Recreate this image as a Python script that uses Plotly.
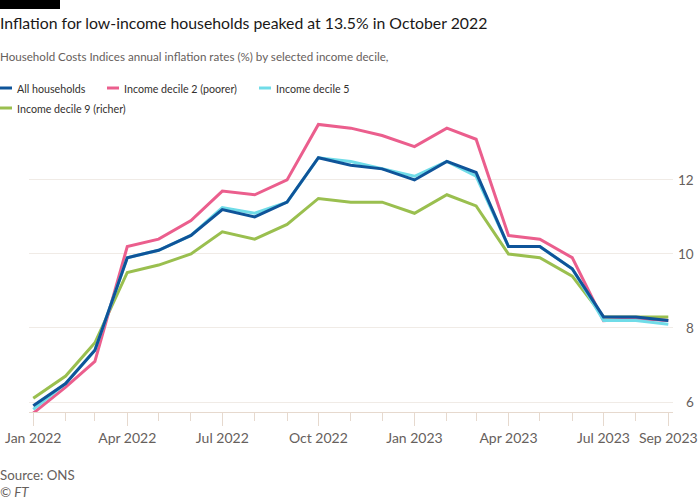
import plotly.graph_objects as go

# ---- data ----
months = ["2022-01-01", "2022-02-01", "2022-03-01", "2022-04-01", "2022-05-01", "2022-06-01",
          "2022-07-01", "2022-08-01", "2022-09-01", "2022-10-01", "2022-11-01", "2022-12-01",
          "2023-01-01", "2023-02-01", "2023-03-01", "2023-04-01", "2023-05-01", "2023-06-01",
          "2023-07-01", "2023-08-01", "2023-09-01"]

all_households = [5.9, 6.5, 7.4, 9.9, 10.1, 10.5, 11.2, 11.0, 11.4, 12.6, 12.4, 12.3,
                  12.0, 12.5, 12.2, 10.2, 10.2, 9.6, 8.3, 8.3, 8.2]
decile_2 = [5.7, 6.4, 7.1, 10.2, 10.4, 10.9, 11.7, 11.6, 12.0, 13.5, 13.4, 13.2,
            12.9, 13.4, 13.1, 10.5, 10.4, 9.9, 8.2, 8.25, 8.2]
decile_5 = [5.8, 6.5, 7.4, 9.9, 10.1, 10.5, 11.25, 11.1, 11.4, 12.6, 12.5, 12.3,
            12.1, 12.5, 12.1, 10.2, 10.2, 9.6, 8.2, 8.2, 8.1]
decile_9 = [6.1, 6.7, 7.6, 9.5, 9.7, 10.0, 10.6, 10.4, 10.8, 11.5, 11.4, 11.4,
            11.1, 11.6, 11.3, 10.0, 9.9, 9.4, 8.3, 8.3, 8.3]

series_names = ["All households", "Income decile 2 (poorer)", "Income decile 5", "Income decile 9 (richer)"]
series_values = [all_households, decile_2, decile_5, decile_9]
series_colors = ["#0f5499", "#eb5e8d", "#70dce8", "#9abf4f"]

x_tick_vals = ["2022-01-01", "2022-04-01", "2022-07-01", "2022-10-01", "2023-01-01",
               "2023-04-01", "2023-07-01", "2023-09-01"]
x_tick_text = ["Jan 2022", "Apr 2022", "Jul 2022", "Oct 2022", "Jan 2023",
               "Apr 2023", "Jul 2023", "Sep 2023"]
y_tick_vals = [6, 8, 10, 12]

title = "Inflation for low-income households peaked at 13.5% in October 2022"
subtitle = "Household Costs Indices annual inflation rates (%) by selected income decile,"
source = "Source: ONS"
credit = "© FT"

# ---- layout geometry (pixels) ----
W, H = 700, 500
PL, PR, PT, PB = 29, 673, 120, 412
FONT = "Lato"


def px(xp):
    return (xp - PL) / (PR - PL)


def py(yp):
    return (PB - yp) / (PB - PT)


fig = go.Figure()

draw_order = [3, 1, 2, 0]
for i in draw_order:
    fig.add_trace(go.Scatter(
        x=months, y=series_values[i], name=series_names[i], mode="lines",
        line=dict(color=series_colors[i], width=3), showlegend=False,
    ))

annotations = []
shapes = []

# black bar at the top-left (extends a little so it stays visible)
shapes.append(dict(type="rect", xref="paper", yref="paper", x0=px(0), x1=px(60),
                   y0=py(9), y1=py(0), fillcolor="#000000", line=dict(width=0), layer="above"))

annotations.append(dict(text=title, xref="paper", yref="paper", x=px(-2), y=py(22), xanchor="left",
                        yanchor="middle", showarrow=False, font=dict(family=FONT, size=15.8, color="#1a1817")))
annotations.append(dict(text=subtitle, xref="paper", yref="paper", x=px(-2), y=py(57), xanchor="left",
                        yanchor="middle", showarrow=False, font=dict(family=FONT, size=11.6, color="#66605c")))

# legend
legend_pos = [(0, 88), (107, 88), (259, 88), (0, 108)]
for (lx, ly), name, color in zip(legend_pos, series_names, series_colors):
    shapes.append(dict(type="line", xref="paper", yref="paper", x0=px(lx), x1=px(lx + 12),
                       y0=py(ly), y1=py(ly), line=dict(color=color, width=3)))
    annotations.append(dict(text=name, xref="paper", yref="paper", x=px(lx + 15), y=py(ly),
                            xanchor="left", yanchor="middle", showarrow=False,
                            font=dict(family=FONT, size=10.7, color="#33302e")))

# y tick labels (right aligned)
for v in y_tick_vals:
    annotations.append(dict(text=str(v), xref="paper", yref="y", x=px(696), y=v, xanchor="right",
                            yanchor="middle", showarrow=False,
                            font=dict(family=FONT, size=13.5, color="#66605c")))

annotations.append(dict(text=source, xref="paper", yref="paper", x=px(-2), y=py(475), xanchor="left",
                        yanchor="middle", showarrow=False, font=dict(family=FONT, size=13.3, color="#66605c")))
annotations.append(dict(text="<i>" + credit + "</i>", xref="paper", yref="paper", x=px(-2), y=py(492),
                        xanchor="left", yanchor="middle", showarrow=False,
                        font=dict(family=FONT, size=13.3, color="#66605c")))

fig.update_layout(
    width=W, height=H,
    margin=dict(l=PL, r=W - PR, t=PT, b=H - PB, pad=0, autoexpand=False),
    paper_bgcolor="#ffffff", plot_bgcolor="#ffffff",
    annotations=annotations, shapes=shapes,
    xaxis=dict(
        type="date", range=["2021-12-27 22:00", "2023-09-05 12:00"], automargin=False,
        tickvals=x_tick_vals, ticktext=x_tick_text, ticks="outside", ticklen=13, tickwidth=1,
        tickcolor="#e6d9ce", showgrid=False, showline=True, linecolor="#e6d9ce", linewidth=1,
        zeroline=False, tickfont=dict(family=FONT, size=14, color="#66605c"),
        ticklabeloverflow="allow",
        minor=dict(tickvals=months, ticks="outside", ticklen=8, tickcolor="#e6d9ce", tickwidth=1,
                   showgrid=False),
    ),
    yaxis=dict(
        range=[5.73, 13.62], tickvals=y_tick_vals, showticklabels=False, showgrid=True,
        gridcolor="#f0ebe6", gridwidth=1, zeroline=False, showline=False, ticks="", automargin=False,
    ),
)

fig.write_html("out.html", config={"displayModeBar": False},
               post_script="document.body.style.margin='0px';")
